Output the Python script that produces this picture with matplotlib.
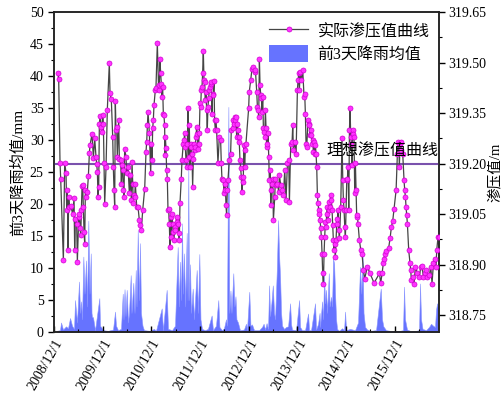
import matplotlib
matplotlib.use('Agg')
import matplotlib.pyplot as plt
import matplotlib.dates as mdates
from matplotlib.ticker import MultipleLocator, FuncFormatter
from matplotlib.lines import Line2D
from matplotlib.patches import Patch
from datetime import datetime, timedelta

plt.rcParams['font.family'] = ['Liberation Serif', 'Noto Sans CJK SC']
plt.rcParams['axes.unicode_minus'] = False

# 实际渗压值 (m), time as decimal year
seep_a = [(2008.999, 319.468), (2009.013, 319.451), (2009.040, 319.203), (2009.054, 319.154),
          (2009.109, 318.913), (2009.136, 319.203), (2009.163, 319.173), (2009.177, 319.064),
          (2009.191, 319.121), (2009.204, 318.943), (2009.218, 319.102), (2009.232, 319.072),
          (2009.259, 319.074), (2009.300, 319.052), (2009.328, 319.097), (2009.341, 318.943),
          (2009.355, 319.037), (2009.382, 319.022), (2009.396, 318.909), (2009.424, 319.042),
          (2009.437, 319.052), (2009.451, 319.008), (2009.465, 318.988), (2009.478, 319.062),
          (2009.492, 319.133), (2009.506, 319.136), (2009.519, 319.072), (2009.533, 318.998),
          (2009.547, 318.963), (2009.560, 319.121), (2009.574, 319.102), (2009.601, 319.116),
          (2009.622, 319.163), (2009.643, 319.232), (2009.656, 319.255), (2009.697, 319.288),
          (2009.725, 319.218), (2009.752, 319.275), (2009.779, 319.220), (2009.793, 319.199),
          (2009.807, 319.176), (2009.820, 319.102), (2009.834, 319.131), (2009.848, 319.319),
          (2009.862, 319.341), (2009.889, 319.309), (2009.903, 319.295), (2009.916, 319.344),
          (2009.930, 319.319), (2009.944, 319.201), (2009.957, 319.080), (2009.985, 319.191),
          (2010.012, 319.361), (2010.053, 319.498), (2010.067, 319.410), (2010.094, 319.391),
          (2010.122, 319.280), (2010.135, 319.191), (2010.149, 319.123), (2010.163, 319.072),
          (2010.176, 319.387), (2010.190, 319.300), (2010.204, 319.309), (2010.217, 319.220),
          (2010.245, 319.329), (2010.259, 319.215), (2010.286, 319.211), (2010.300, 319.141),
          (2010.313, 319.196), (2010.327, 319.181), (2010.341, 319.121), (2010.354, 319.102),
          (2010.368, 319.245), (2010.395, 319.220), (2010.409, 319.171), (2010.437, 319.191),
          (2010.464, 319.112), (2010.478, 319.166), (2010.505, 319.092), (2010.519, 319.206),
          (2010.532, 319.141), (2010.546, 319.082), (2010.560, 319.107), (2010.573, 319.102),
          (2010.587, 319.141), (2010.615, 319.072), (2010.642, 319.072), (2010.669, 319.032),
          (2010.683, 319.017), (2010.710, 319.003), (2010.738, 319.062), (2010.779, 319.126),
          (2010.806, 319.235), (2010.820, 319.265), (2010.834, 319.314), (2010.847, 319.354),
          (2010.875, 319.290)]

seep_b = [(2010.902, 319.171), (2010.915, 319.260), (2010.929, 319.211), (2010.943, 319.305),
          (2010.956, 319.329), (2010.970, 319.374), (2010.998, 319.420), (2011.011, 319.426),
          (2011.039, 319.557), (2011.066, 319.418), (2011.080, 319.433), (2011.093, 319.512),
          (2011.107, 319.468), (2011.121, 319.438), (2011.134, 319.397), (2011.148, 319.428),
          (2011.162, 319.349), (2011.175, 319.344), (2011.189, 319.314), (2011.196, 319.225),
          (2011.203, 319.280), (2011.217, 319.246), (2011.230, 319.181), (2011.244, 319.156),
          (2011.258, 319.062), (2011.271, 319.067), (2011.285, 319.022), (2011.299, 318.953),
          (2011.312, 319.042), (2011.326, 318.983), (2011.340, 319.052), (2011.353, 319.022),
          (2011.367, 318.998), (2011.381, 318.973), (2011.395, 319.012), (2011.408, 319.003),
          (2011.436, 319.042), (2011.449, 319.027), (2011.463, 319.022), (2011.477, 318.993),
          (2011.490, 318.973), (2011.504, 319.082), (2011.531, 319.156), (2011.545, 319.211),
          (2011.572, 319.260), (2011.586, 319.270), (2011.600, 319.290), (2011.614, 319.250),
          (2011.627, 319.211), (2011.641, 319.191), (2011.655, 319.260), (2011.668, 319.364),
          (2011.682, 319.220), (2011.696, 319.314), (2011.709, 319.191), (2011.723, 319.260),
          (2011.737, 319.250), (2011.750, 319.230), (2011.764, 319.131), (2011.778, 319.215),
          (2011.791, 319.260), (2011.805, 319.240), (2011.819, 319.250), (2011.832, 319.280),
          (2011.846, 319.309), (2011.860, 319.288), (2011.874, 319.245), (2011.887, 319.260),
          (2011.901, 319.290), (2011.915, 319.379), (2011.928, 319.369), (2011.942, 319.418),
          (2011.956, 319.428), (2011.969, 319.468), (2011.983, 319.535), (2011.997, 319.448),
          (2012.011, 319.443), (2012.024, 319.389), (2012.038, 319.413), (2012.052, 319.359),
          (2012.065, 319.300), (2012.079, 319.369), (2012.093, 319.394), (2012.106, 319.418),
          (2012.120, 319.428), (2012.134, 319.438), (2012.147, 319.443), (2012.161, 319.349),
          (2012.175, 319.408), (2012.188, 319.404), (2012.202, 319.446), (2012.216, 319.329),
          (2012.230, 319.300), (2012.243, 319.329), (2012.257, 319.300), (2012.284, 319.201),
          (2012.312, 319.280), (2012.339, 319.270), (2012.353, 319.201), (2012.366, 319.156),
          (2012.394, 319.151), (2012.408, 319.112), (2012.421, 319.121), (2012.435, 319.141),
          (2012.449, 319.077), (2012.462, 319.047), (2012.476, 319.121), (2012.490, 319.151),
          (2012.517, 319.211), (2012.544, 319.230), (2012.558, 319.300), (2012.586, 319.305),
          (2012.599, 319.329), (2012.613, 319.319), (2012.627, 319.339), (2012.640, 319.329),
          (2012.654, 319.339), (2012.668, 319.280), (2012.681, 319.319), (2012.695, 319.300),
          (2012.709, 319.280), (2012.722, 319.265), (2012.736, 319.211), (2012.750, 319.186),
          (2012.764, 319.161), (2012.777, 319.116), (2012.791, 319.146), (2012.805, 319.161),
          (2012.818, 319.255), (2012.832, 319.191), (2012.846, 319.240), (2012.859, 319.260)]

seep_c = [(2012.914, 319.364), (2012.927, 319.413), (2012.955, 319.448), (2012.982, 319.480),
          (2013.010, 319.486), (2013.037, 319.473), (2013.051, 319.478), (2013.078, 319.413),
          (2013.092, 319.369), (2013.105, 319.359), (2013.119, 319.339), (2013.133, 319.512),
          (2013.146, 319.433), (2013.160, 319.404), (2013.174, 319.394), (2013.188, 319.354),
          (2013.201, 319.399), (2013.215, 319.305), (2013.229, 319.295), (2013.242, 319.280),
          (2013.256, 319.359), (2013.270, 319.305), (2013.283, 319.250), (2013.297, 319.260),
          (2013.311, 319.290), (2013.324, 319.220), (2013.338, 319.151), (2013.352, 319.181),
          (2013.366, 319.077), (2013.379, 319.121), (2013.393, 319.141), (2013.407, 319.156),
          (2013.420, 319.032), (2013.448, 319.102), (2013.461, 319.156), (2013.475, 319.136),
          (2013.502, 319.141), (2013.530, 319.116), (2013.543, 319.166), (2013.571, 319.136),
          (2013.598, 319.121), (2013.626, 319.107), (2013.653, 319.181), (2013.680, 319.092),
          (2013.708, 319.201), (2013.735, 319.211), (2013.749, 319.087), (2013.776, 319.260),
          (2013.804, 319.265), (2013.817, 319.314), (2013.831, 319.240), (2013.858, 319.265),
          (2013.886, 319.230), (2013.913, 319.418), (2013.927, 319.448), (2013.940, 319.468),
          (2013.954, 319.418), (2013.968, 319.473), (2013.995, 319.448), (2014.023, 319.478),
          (2014.050, 319.399), (2014.064, 319.408), (2014.077, 319.349), (2014.091, 319.260),
          (2014.105, 319.250), (2014.132, 319.329), (2014.146, 319.319), (2014.159, 319.314),
          (2014.173, 319.285), (2014.187, 319.300), (2014.201, 319.285), (2014.214, 319.260),
          (2014.228, 319.270), (2014.242, 319.235), (2014.255, 319.265), (2014.269, 319.230),
          (2014.283, 319.255), (2014.296, 319.230), (2014.310, 319.191), (2014.324, 319.107),
          (2014.337, 319.082), (2014.351, 319.062), (2014.365, 319.052), (2014.379, 319.032),
          (2014.392, 319.008), (2014.406, 318.983), (2014.420, 318.933), (2014.433, 318.874),
          (2014.447, 318.842), (2014.461, 318.933), (2014.474, 318.983), (2014.488, 319.027),
          (2014.502, 319.012), (2014.515, 319.052), (2014.529, 319.072), (2014.543, 319.032),
          (2014.557, 319.062), (2014.570, 319.087), (2014.584, 319.072), (2014.598, 319.107),
          (2014.611, 319.092), (2014.625, 319.062), (2014.639, 319.017), (2014.652, 318.973),
          (2014.666, 318.943), (2014.680, 318.963), (2014.693, 318.923), (2014.707, 318.973),
          (2014.721, 319.022), (2014.735, 319.037), (2014.748, 319.062), (2014.762, 319.003),
          (2014.776, 318.978), (2014.803, 319.072), (2014.830, 319.275)]

seep_d = [(2014.845, 319.151), (2014.858, 319.092), (2014.872, 319.062), (2014.886, 319.012),
          (2014.899, 318.983), (2014.913, 319.062), (2014.927, 319.151), (2014.940, 319.156),
          (2014.954, 319.191), (2014.968, 319.062), (2014.982, 319.300), (2014.995, 319.364),
          (2015.009, 319.280), (2015.023, 319.260), (2015.036, 319.196), (2015.050, 319.300),
          (2015.064, 319.288), (2015.077, 319.280), (2015.091, 319.112), (2015.105, 319.201),
          (2015.118, 319.121), (2015.132, 319.042), (2015.146, 319.047), (2015.159, 319.022),
          (2015.187, 318.973), (2015.214, 318.945), (2015.242, 318.931), (2015.269, 318.884),
          (2015.296, 318.859), (2015.351, 318.894), (2015.406, 318.874), (2015.488, 318.846),
          (2015.598, 318.874), (2015.625, 318.846), (2015.652, 318.874), (2015.680, 318.906),
          (2015.693, 318.917), (2015.707, 318.933), (2015.735, 318.941), (2015.789, 318.951),
          (2015.817, 318.979), (2015.844, 319.012), (2015.871, 319.030), (2015.899, 319.066),
          (2015.940, 319.121), (2015.967, 319.230), (2015.981, 319.265), (2015.995, 319.260),
          (2016.008, 319.191), (2016.022, 319.260), (2016.036, 319.265), (2016.049, 319.240),
          (2016.077, 319.230), (2016.104, 319.151), (2016.118, 319.121), (2016.132, 319.102),
          (2016.145, 319.072), (2016.159, 319.047), (2016.173, 319.022), (2016.200, 318.943),
          (2016.227, 318.904), (2016.241, 318.884), (2016.255, 318.854), (2016.282, 318.864),
          (2016.310, 318.844), (2016.337, 318.894), (2016.378, 318.874), (2016.419, 318.864),
          (2016.447, 318.894), (2016.474, 318.896), (2016.501, 318.864), (2016.529, 318.874),
          (2016.556, 318.884), (2016.583, 318.864), (2016.624, 318.869), (2016.652, 318.894),
          (2016.679, 318.844), (2016.707, 318.904), (2016.734, 318.918), (2016.761, 318.894),
          (2016.775, 318.943), (2016.802, 318.983), (2016.815, 318.983)]

# 前3天降雨均值 (mm)
rain_a = [(2008.979, 0.2), (2009.040, 0.3), (2009.061, 1.5), (2009.102, 0.4), (2009.163, 0.9),
          (2009.204, 0.6), (2009.246, 2.2), (2009.287, 1.0), (2009.328, 0.5), (2009.348, 5.0),
          (2009.389, 1.5), (2009.430, 7.9), (2009.451, 3.0), (2009.471, 4.8), (2009.492, 2.0),
          (2009.519, 11.8), (2009.543, 6.0), (2009.574, 11.2), (2009.595, 4.0), (2009.621, 17.4),
          (2009.646, 6.0), (2009.671, 12.3), (2009.687, 3.0), (2009.697, 2.4), (2009.718, 2.3),
          (2009.759, 0.3), (2009.847, 5.3), (2009.862, 1.0), (2009.882, 0.8), (2009.923, 0.3),
          (2010.026, 0.2), (2010.129, 0.4), (2010.170, 3.2), (2010.190, 1.0), (2010.231, 0.3),
          (2010.293, 0.5), (2010.328, 6.0), (2010.344, 2.0), (2010.365, 6.7), (2010.385, 2.5),
          (2010.410, 6.6), (2010.437, 1.5), (2010.457, 3.0), (2010.492, 8.9), (2010.508, 3.0),
          (2010.545, 7.7), (2010.570, 3.0), (2010.595, 9.7), (2010.611, 4.0), (2010.636, 15.9),
          (2010.662, 5.0), (2010.683, 13.9), (2010.703, 3.0), (2010.734, 1.0), (2010.765, 0.3)]

rain_b = [(2010.888, 0.2), (2010.970, 0.5), (2011.011, 0.2), (2011.129, 3.7), (2011.155, 0.3),
          (2011.231, 6.6), (2011.258, 0.5), (2011.340, 0.3), (2011.402, 1.0), (2011.457, 13.3),
          (2011.480, 4.0), (2011.504, 11.0), (2011.525, 5.0), (2011.545, 17.0), (2011.566, 6.0),
          (2011.586, 12.3), (2011.611, 4.0), (2011.642, 15.5), (2011.660, 5.0), (2011.675, 25.8),
          (2011.689, 5.0), (2011.710, 10.6), (2011.730, 3.0), (2011.765, 6.8), (2011.792, 2.0),
          (2011.847, 9.7), (2011.874, 3.0), (2011.901, 12.2), (2011.925, 2.0), (2011.956, 0.5),
          (2012.018, 0.3), (2012.079, 0.5), (2012.155, 2.6), (2012.182, 0.3), (2012.244, 1.0),
          (2012.291, 5.0), (2012.315, 0.8), (2012.367, 0.3), (2012.408, 0.6), (2012.449, 2.0),
          (2012.469, 1.0), (2012.498, 35.2), (2012.517, 3.0), (2012.541, 6.5), (2012.562, 3.0),
          (2012.599, 9.2), (2012.623, 4.0), (2012.644, 5.6), (2012.664, 2.0), (2012.695, 1.5),
          (2012.736, 0.3), (2012.818, 0.4), (2012.860, 1.3), (2012.880, 0.3)]

rain_c = [(2012.927, 6.3), (2012.952, 1.0), (2012.983, 1.2), (2013.024, 0.3), (2013.126, 0.3),
          (2013.188, 0.8), (2013.219, 1.3), (2013.250, 0.4), (2013.280, 1.4), (2013.311, 0.5),
          (2013.332, 7.3), (2013.352, 2.5), (2013.379, 4.5), (2013.408, 7.3), (2013.434, 3.0),
          (2013.455, 2.0), (2013.490, 9.7), (2013.517, 17.5), (2013.537, 12.0), (2013.558, 8.5),
          (2013.578, 3.0), (2013.599, 1.0), (2013.640, 0.5), (2013.681, 0.8), (2013.722, 0.9),
          (2013.763, 4.5), (2013.784, 1.2), (2013.804, 0.4), (2013.886, 0.3), (2013.948, 5.0),
          (2013.968, 0.8), (2014.009, 0.3), (2014.071, 0.3), (2014.133, 2.9), (2014.153, 0.3),
          (2014.194, 0.3), (2014.276, 4.5), (2014.297, 0.4), (2014.338, 1.3), (2014.369, 3.0),
          (2014.379, 0.8), (2014.420, 4.8), (2014.441, 2.0), (2014.461, 8.9), (2014.482, 4.5),
          (2014.502, 6.6), (2014.523, 3.0), (2014.558, 9.2), (2014.574, 4.0), (2014.605, 5.5),
          (2014.625, 4.0), (2014.646, 11.5), (2014.667, 10.7), (2014.687, 6.0), (2014.708, 2.0),
          (2014.728, 0.5), (2014.769, 0.2)]

rain_d = [(2014.831, 0.6), (2014.872, 0.3), (2014.892, 3.2), (2014.913, 0.3), (2014.995, 0.5),
          (2015.098, 0.3), (2015.159, 1.5), (2015.200, 10.2), (2015.227, 6.0), (2015.252, 12.0),
          (2015.272, 3.0), (2015.303, 0.8), (2015.344, 0.4), (2015.406, 0.2), (2015.529, 0.3),
          (2015.625, 6.8), (2015.652, 2.0), (2015.679, 0.9), (2015.734, 0.3), (2015.816, 0.2),
          (2015.919, 0.2), (2016.022, 0.2), (2016.083, 0.3), (2016.104, 7.1), (2016.124, 2.0),
          (2016.165, 0.4), (2016.227, 0.2), (2016.350, 0.2), (2016.412, 0.3), (2016.432, 7.6),
          (2016.453, 2.0), (2016.484, 0.5), (2016.556, 0.3), (2016.617, 0.8), (2016.658, 1.3),
          (2016.700, 1.0), (2016.740, 0.8), (2016.761, 3.5), (2016.782, 4.5), (2016.802, 3.8)]

ideal_m = 319.20
year_ticks = [2008, 2009, 2010, 2011, 2012, 2013, 2014, 2015]


def to_date(v):
    y = int(v)
    return datetime(y, 1, 1) + timedelta(days=(v - y) * 365.25)


seep = seep_a + seep_b + seep_c + seep_d
rain = rain_a + rain_b + rain_c + rain_d
seep_x = [to_date(t) for t, _ in seep]
seep_y = [v for _, v in seep]
rain_x = [to_date(t) for t, _ in rain]
rain_y = [v for _, v in rain]

fig = plt.figure(figsize=(5.04, 3.93), dpi=100)
ax = fig.add_axes([0.107, 0.155, 0.764, 0.814])
ax2 = ax.twinx()

ax.fill_between(rain_x, 0, rain_y, color='#6673ff', lw=0.4, edgecolor='#8a95ff')
ax.set_ylim(0, 50)
ax.yaxis.set_major_locator(MultipleLocator(5))
ax.yaxis.set_minor_locator(MultipleLocator(2.5))
ax.set_ylabel('前3天降雨均值/mm', fontsize=11, labelpad=3)

ax2.axhline(ideal_m, color='#7a52ad', lw=1.5, zorder=1)
ax2.plot(seep_x, seep_y, color='#454545', lw=0.9, marker='o', ms=3.6,
         mfc='#ff33ff', mec='#d000d0', mew=0.5, zorder=3)
ax2.set_ylim(318.70, 319.65)
ax2.yaxis.set_major_locator(MultipleLocator(0.15))
ax2.yaxis.set_minor_locator(MultipleLocator(0.075))
ax2.yaxis.set_major_formatter(FuncFormatter(lambda v, p: f'{v:.2f}'))
ax2.set_ylabel('渗压值/m', fontsize=10.5, labelpad=1)

ax.set_xlim(datetime(2008, 12, 1), datetime(2016, 10, 27))
ax.set_xticks([datetime(y, 12, 1) for y in year_ticks])
ax.set_xticklabels([f'{y}/12/1' for y in year_ticks], rotation=60, ha='right',
                   rotation_mode='anchor', fontsize=10)
ax.xaxis.set_minor_locator(mdates.MonthLocator(bymonth=6, bymonthday=1))

ax.tick_params(axis='x', which='both', direction='in', top=False)
ax.tick_params(axis='x', which='major', length=4, width=1)
ax.tick_params(axis='x', which='minor', length=2.5, width=0.8)
ax.tick_params(axis='y', which='major', direction='out', length=4, width=1, labelsize=10)
ax.tick_params(axis='y', which='minor', direction='out', length=2.5, width=0.8)
ax2.tick_params(axis='y', which='major', direction='out', length=4, width=1, labelsize=10,
                pad=2.5)
ax2.tick_params(axis='y', which='minor', direction='out', length=2.5, width=0.8)
for a in (ax, ax2):
    for s in a.spines.values():
        s.set_linewidth(1.1)
        s.set_color('#222222')

ax2.text(datetime(2016, 10, 20), ideal_m + 0.012, '理想渗压值曲线', ha='right', va='bottom',
         fontsize=11.5)

handles = [Line2D([0], [0], color='#454545', lw=0.9, marker='o', ms=3.6,
                  mfc='#ff33ff', mec='#d000d0', mew=0.5),
           Patch(facecolor='#6673ff', edgecolor='none')]
ax2.legend(handles, ['实际渗压值曲线', '前3天降雨均值'], loc='upper right', frameon=False,
           fontsize=11.5, handlelength=2.4, handleheight=1.3, borderaxespad=0.2,
           labelspacing=0.3, handletextpad=0.6, numpoints=1)

fig.savefig('out.png', dpi=100)
